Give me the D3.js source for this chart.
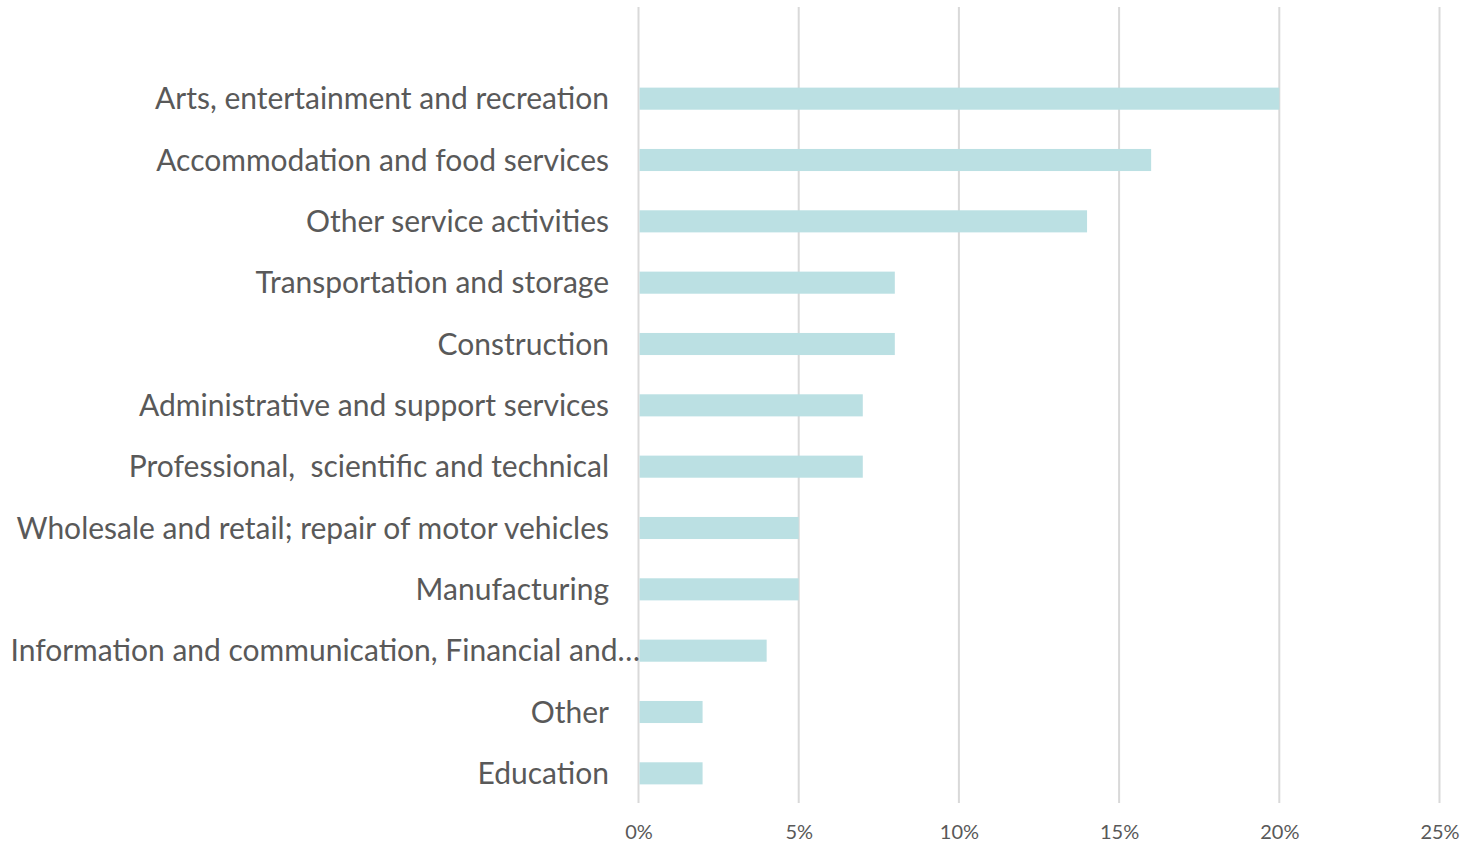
<!DOCTYPE html>
<html><head><meta charset="utf-8">
<script src="https://cdn.jsdelivr.net/npm/d3@7"></script>
<style>body{margin:0;background:#fff;} svg{display:block;}</style>
</head><body>
<svg id="chart" width="1470" height="846"></svg>
<script>
const categories = [
  "Arts, entertainment and recreation",
  "Accommodation and food services",
  "Other service activities",
  "Transportation and storage",
  "Construction",
  "Administrative and support services",
  "Professional,  scientific and technical",
  "Wholesale and retail; repair of motor vehicles",
  "Manufacturing",
  "Information and communication, Financial and…",
  "Other",
  "Education"
];
const values = [0.20, 0.16, 0.14, 0.08, 0.08, 0.07, 0.07, 0.05, 0.05, 0.04, 0.02, 0.02];
const tickValues = [0, 0.05, 0.10, 0.15, 0.20, 0.25];

const svg = d3.select("#chart");
const font = "Lato, 'Open Sans', sans-serif";
const x = d3.scaleLinear().domain([0, 0.25]).range([638.5, 1439.5]);
const y = d3.scaleBand().domain(categories).range([68, 804]).paddingInner(0.64).paddingOuter(0.32);

// gridlines
svg.append("g").selectAll("line").data(tickValues).join("line")
  .attr("x1", d => x(d)).attr("x2", d => x(d))
  .attr("y1", 7).attr("y2", 803)
  .attr("stroke", "#d9d9d9").attr("stroke-width", 2);

// bars
svg.append("g").selectAll("rect").data(values).join("rect")
  .attr("x", x(0) + 1)
  .attr("y", (d, i) => y(categories[i]))
  .attr("width", d => x(d) - x(0) - 1)
  .attr("height", y.bandwidth())
  .attr("fill", "#bbe0e3");

// category labels
svg.append("g").selectAll("text").data(categories).join("text")
  .attr("x", (d, i) => i === 9 ? 640 : 609)
  .attr("y", d => y(d) + y.bandwidth() / 2)
  .attr("dy", "0.35em")
  .attr("text-anchor", "end")
  .attr("font-family", font)
  .attr("font-size", 30)
  .attr("fill", "#595959")
  .attr("xml:space", "preserve")
  .style("white-space", "pre")
  .text(d => d);

// x axis tick labels
const xAxis = d3.axisBottom(x).tickValues(tickValues).tickFormat(d3.format(".0%")).tickSize(0).tickPadding(0);
const gx = svg.append("g").attr("transform", "translate(0,825)").call(xAxis);
gx.select(".domain").remove();
gx.selectAll("text").attr("font-family", font).attr("font-size", 20).attr("fill", "#595959");
</script>
</body></html>
